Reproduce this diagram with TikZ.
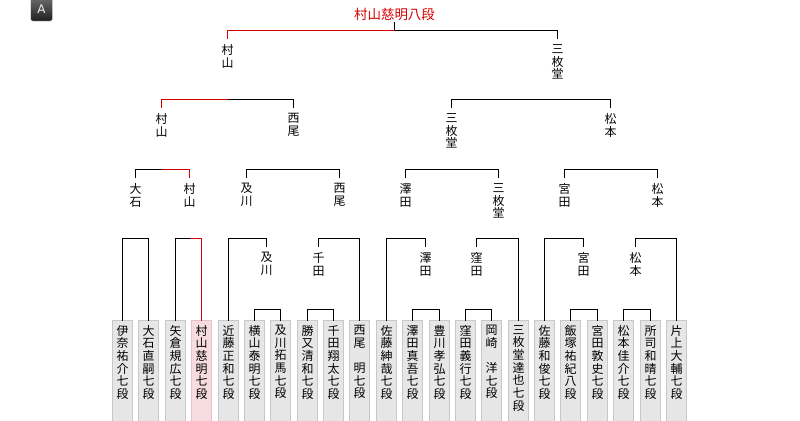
\documentclass[tikz,border=0pt]{standalone}
\usepackage{fontspec}
\usetikzlibrary{calc,positioning}
\newfontfamily\jpfont{Noto Sans CJK JP}
\newfontfamily\tabfont{DejaVu Sans}
\definecolor{winred}{HTML}{D40000}
\definecolor{boxgray}{HTML}{E6E6E6}
\definecolor{boxedge}{HTML}{C8C8C8}
\definecolor{winpink}{HTML}{F7DCDF}
\definecolor{winedge}{HTML}{E6C2C6}

\tikzset{
  bline/.style={draw=black,line width=1bp},
  redline/.style={draw=winred,line width=1bp},
  player/.style={anchor=north,minimum width=20bp,minimum height=130bp,inner sep=0pt,outer sep=0pt,line width=1bp},
  pname/.style={anchor=north,align=center,inner sep=0pt,font=\jpfont\fontsize{12}{12.7}\selectfont},
  lab/.style={anchor=north,align=center,inner xsep=0pt,inner ysep=5.5bp,outer sep=0pt,font=\jpfont\fontsize{12}{12.7}\selectfont},
  tabbadge/.style={minimum width=21.5bp,minimum height=23bp,inner sep=0pt,rounded corners=2bp,
    top color=black!58,bottom color=black!88,draw=black!25,text=black!8,font=\tabfont\fontsize{12}{12}\selectfont},
}

\begin{document}
\begin{tikzpicture}[x=1bp,y=-1bp]
  \useasboundingbox (0,0) rectangle (800,420);
  \node[tabbadge] (tab) at (41.5,9.5) {A};
  % champion
  \node[font=\jpfont\fontsize{13.5}{14}\selectfont,text=winred,inner sep=1.5bp,outer sep=0pt] (champ) at (394.5,14) {村山慈明八段};
  % players
  \foreach \nm/\fc/\dc [count=\i] in {
    伊\\奈\\祐\\介\\七\\段/boxgray/boxedge,
    大\\石\\直\\嗣\\七\\段/boxgray/boxedge,
    矢\\倉\\規\\広\\七\\段/boxgray/boxedge,
    村\\山\\慈\\明\\七\\段/winpink/winedge,
    近\\藤\\正\\和\\七\\段/boxgray/boxedge,
    横\\山\\泰\\明\\七\\段/boxgray/boxedge,
    及\\川\\拓\\馬\\七\\段/boxgray/boxedge,
    勝\\又\\清\\和\\七\\段/boxgray/boxedge,
    千\\田\\翔\\太\\七\\段/boxgray/boxedge,
    西\\尾\\　\\明\\七\\段/boxgray/boxedge,
    佐\\藤\\紳\\哉\\七\\段/boxgray/boxedge,
    澤\\田\\真\\吾\\七\\段/boxgray/boxedge,
    豊\\川\\孝\\弘\\七\\段/boxgray/boxedge,
    窪\\田\\義\\行\\七\\段/boxgray/boxedge,
    岡\\崎\\　\\洋\\七\\段/boxgray/boxedge,
    三\\枚\\堂\\達\\也\\七\\段/boxgray/boxedge,
    佐\\藤\\和\\俊\\七\\段/boxgray/boxedge,
    飯\\塚\\祐\\紀\\八\\段/boxgray/boxedge,
    宮\\田\\敦\\史\\七\\段/boxgray/boxedge,
    松\\本\\佳\\介\\七\\段/boxgray/boxedge,
    所\\司\\和\\晴\\七\\段/boxgray/boxedge,
    片\\上\\大\\輔\\七\\段/boxgray/boxedge}{
    \node[player,fill=\fc,draw=\dc] (p\i) at ({122.5+round((\i-1)*26.38)},320.5) {};
    \node[pname] (n\i) at ([yshift=-4.5bp]p\i.north) {\nm};
  }
  % winners by round
  \node[lab] (l1a) at (227.5,39) {村\\山};
  \node[lab] (l1b) at (557.5,39) {三\\枚\\堂};
  \node[lab] (l2a) at (161.5,108) {村\\山};
  \node[lab] (l2b) at (293.5,108) {西\\尾};
  \node[lab] (l2c) at (451.5,108) {三\\枚\\堂};
  \node[lab] (l2d) at (610.5,108) {松\\本};
  \node[lab] (l3a) at (135.5,178) {大\\石};
  \node[lab] (l3b) at (189.5,178) {村\\山};
  \node[lab] (l3c) at (246.5,178) {及\\川};
  \node[lab] (l3d) at (339.5,178) {西\\尾};
  \node[lab] (l3e) at (405.5,178) {澤\\田};
  \node[lab] (l3f) at (498.5,178) {三\\枚\\堂};
  \node[lab] (l3g) at (564.5,178) {宮\\田};
  \node[lab] (l3h) at (657.5,178) {松\\本};
  \node[lab] (l4a) at (266.5,247) {及\\川};
  \node[lab] (l4b) at (318.5,247) {千\\田};
  \node[lab] (l4c) at (425.5,247) {澤\\田};
  \node[lab] (l4d) at (476.5,247) {窪\\田};
  \node[lab] (l4e) at (583.5,247) {宮\\田};
  \node[lab] (l4f) at (635.5,247) {松\\本};
  % first round
  \foreach \a/\b in {6/7,8/9,12/13,14/15,18/19,20/21}
    \draw[bline] (p\a.north) -- (p\a |- 0,309.5) -| (p\b.north);
  % second round
  \foreach \a/\b in {p1/p2,p5/l4a,l4b/p10,p11/l4c,l4d/p16,p17/l4e,l4f/p22}
    \draw[bline] (\a.north) -- (\a |- 0,238.5) -| (\b.north);
  \draw[bline] (p3.north) -- (p3 |- 0,238.5) -- (l3b |- 0,238.5);
  % third round
  \foreach \a/\b in {l3c/l3d,l3e/l3f,l3g/l3h}
    \draw[bline] (\a.north) -- (\a |- 0,169.5) -| (\b.north);
  \draw[bline] (l3a.north) -- (l3a |- 0,169.5) -- (l2a |- 0,169.5);
  % semifinals
  \draw[bline] (l2c.north) -- (l2c |- 0,99.5) -| (l2d.north);
  \draw[bline] (l1a |- 0,99.5) -| (l2b.north);
  % final
  \draw[bline] (champ |- 0,30.5) -| (l1b.north);
  \draw[bline] (champ.south) -- (champ |- 0,30.5);
  % winner's path
  \draw[redline] (l3b |- 0,238.5) -| (p4.north);
  \draw[redline] (l2a |- 0,169.5) -| (l3b.north);
  \draw[redline] (l2a.north) -- (l2a |- 0,99.5) -- (l1a |- 0,99.5);
  \draw[redline] (l1a.north) -- (l1a |- 0,30.5) -- (champ |- 0,30.5);
\end{tikzpicture}
\end{document}
